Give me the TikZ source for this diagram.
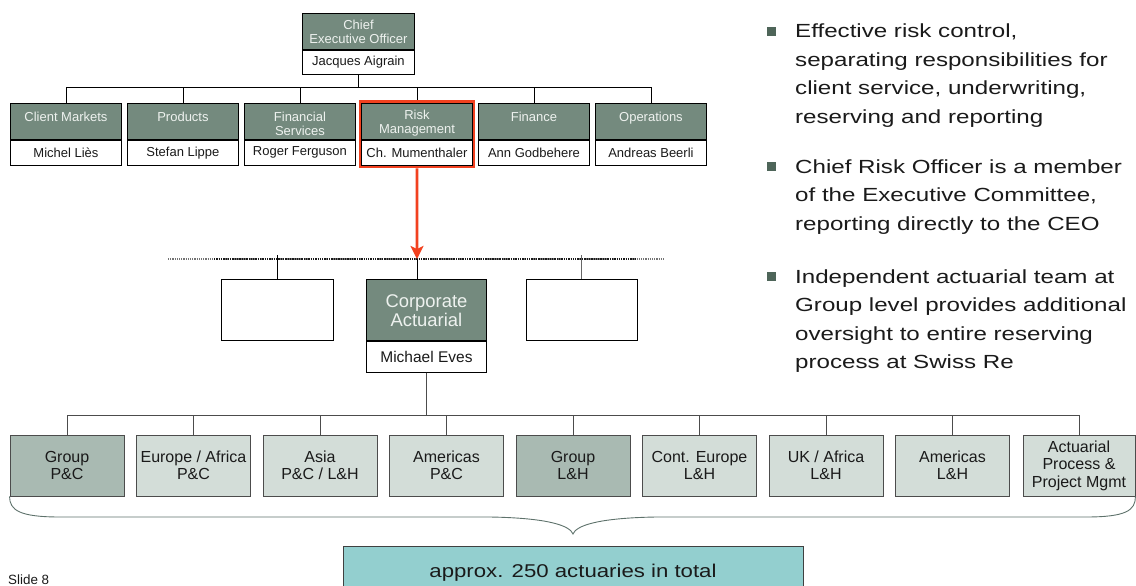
\documentclass[tikz,border=0pt]{standalone}
\usepackage{fontspec}
\setmainfont{Liberation Sans}
\newfontfamily\bulletfont{Liberation Sans}[FakeStretch=1.27]
\newfontfamily\widefont{Liberation Sans}[FakeStretch=1.2]
\usetikzlibrary{arrows.meta,fit,calc}

\definecolor{hdrgreen}{HTML}{748A7E}
\definecolor{hdrtext}{HTML}{EEF2EF}
\definecolor{darkbox}{HTML}{A9BAB2}
\definecolor{lightbox}{HTML}{D3DDD8}
\definecolor{riskred}{HTML}{F2411F}
\definecolor{tealbox}{HTML}{93CFCF}
\definecolor{bracecol}{HTML}{5E726B}
\definecolor{bulletcol}{HTML}{4E6559}
\definecolor{txt}{HTML}{1A1A1A}

\begin{document}
\begin{tikzpicture}[x=1pt,y=-1pt,
  hdr/.style={draw=black, line width=0.9pt, fill=hdrgreen,
    minimum width=111pt, minimum height=36pt, inner sep=0pt,
    anchor=north west},
  htext/.style={text=hdrtext, inner sep=0pt, align=center,
    font=\fontsize{13}{14}\selectfont},
  nm/.style={draw=black, line width=0.9pt, fill=white, text=txt,
    minimum width=111pt, minimum height=25pt, inner sep=0pt,
    anchor=north west, font=\fontsize{13}{14}\selectfont},
  wire/.style={draw=black, line width=0.9pt},
  lowwire/.style={draw=black!70, line width=0.9pt},
  blank/.style={draw=black, line width=0.9pt, fill=white, minimum height=61pt,
    inner sep=0pt, anchor=north west},
  unit/.style={draw=black!70, line width=0.9pt, minimum width=114pt,
    minimum height=61pt, inner sep=0pt, align=center, text=txt,
    font=\fontsize{16}{17.5}\selectfont},
  bsq/.style={fill=bulletcol, minimum size=9pt, inner sep=0pt},
  btxt/.style={anchor=base west, inner sep=0pt, text=txt,
    font=\bulletfont\fontsize{19}{28}\selectfont},
  brace/.style={draw=bracecol, line width=0.9pt}
]
\useasboundingbox (0,0) rectangle (1136,586);
\clip (0,0) rectangle (1136,586);

% ---------- CEO ----------
\node[hdr, minimum width=112pt] (ceoh) at (302,13) {};
\node[htext, yshift=-0.5pt] (ceol) at (ceoh.center) {Chief\\Executive Officer};
\node[nm, minimum width=112pt, minimum height=24pt] (ceon) at (ceoh.south west) {Jacques Aigrain};

% ---------- executive row ----------
\node[hdr] (cmh) at (10,103) {};
\node[nm] (cmn) at (cmh.south west) {Michel Liès};
\node[hdr] (prh) at (127,103) {};
\node[nm] (prn) at (prh.south west) {Stefan Lippe};
\node[hdr] (fsh) at (244,103) {};
\node[nm] (fsn) at (fsh.south west) {Roger Ferguson};
\node[hdr] (rmh) at (361,103) {};
\node[nm] (rmn) at (rmh.south west) {Ch. Mumenthaler};
\node[hdr] (fih) at (478,103) {};
\node[nm] (fin) at (fih.south west) {Ann Godbehere};
\node[hdr] (oph) at (595,103) {};
\node[nm] (opn) at (oph.south west) {Andreas Beerli};

\node[htext, yshift=-2pt] (cml) at (cmh.center) {Client Markets\\\phantom{X}};
\node[htext, yshift=-2pt] (prl) at (prh.center) {Products\\\phantom{X}};
\node[htext, yshift=-2pt] (fsl) at (fsh.center) {Financial\\Services};
\node[htext, yshift=-2pt] (rml) at (rmh.center) {Risk\\Management};
\node[htext, yshift=-2pt] (fil) at (fih.center) {Finance\\\phantom{X}};
\node[htext, yshift=-2pt] (opl) at (oph.center) {Operations\\\phantom{X}};

\foreach \n in {cmh,prh,fsh,rmh,fih,oph}
  \draw[wire] (ceon.south) -- ++(0,13) -| (\n.north);

\node[draw=riskred, line width=2.6pt, fit=(rmh)(rmn), inner sep=1.2pt] (rmbox) {};

% ---------- dotted level ----------
\coordinate (dl) at (168,259);
\coordinate (dr) at (665,259);
\coordinate (dml) at (214,259);
\coordinate (dmr) at (636,259);
\draw[black!55, densely dotted, line width=1.2pt] (dl) -- (dr);
\draw[black!90, densely dotted, line width=1.3pt] (dml) -- (dmr);

\node[blank, minimum width=112pt] (lb) at (221,279) {};
\node[blank, minimum width=111pt] (rb) at (526,279) {};
\node[hdr, minimum width=120pt, minimum height=61pt] (cah) at (366,279) {};
\node[htext, font=\fontsize{18.4}{19.5}\selectfont, yshift=-0.5pt] (cal) at (cah.center) {Corporate\\Actuarial};
\node[nm, minimum width=120pt, minimum height=31pt,
      font=\fontsize{15.5}{17}\selectfont] (can) at (cah.south west) {Michael Eves};

\coordinate (lbt) at (277,255);
\coordinate (rbt) at (581.5,255);
\coordinate (cat) at (417,259);
\draw[wire] (lbt) -- (lbt |- lb.north);
\draw[draw=black!60, line width=0.9pt] (rbt) -- (rbt |- rb.north);
\draw[wire] (cat) -- (cat |- cah.north);

\draw[riskred, line width=2.6pt, -{Stealth[length=13pt, width=13pt, inset=3pt]}]
  (rmbox.south) -- (cat);

% ---------- actuarial units ----------
\node[unit, fill=darkbox]  (u1) at (67,465.5)     {Group\\P\&C};
\node[unit, fill=lightbox] (u2) at (193.5,465.5)  {Europe / Africa\\P\&C};
\node[unit, fill=lightbox] (u3) at (320,465.5)    {Asia\\P\&C / L\&H};
\node[unit, fill=lightbox] (u4) at (446.5,465.5)  {Americas\\P\&C};
\node[unit, fill=darkbox]  (u5) at (573,465.5)    {Group\\L\&H};
\node[unit, fill=lightbox] (u6) at (699.5,465.5)  {Cont. Europe\\L\&H};
\node[unit, fill=lightbox] (u7) at (826,465.5)    {UK / Africa\\L\&H};
\node[unit, fill=lightbox] (u8) at (952.5,465.5)  {Americas\\L\&H};
\node[unit, fill=lightbox, minimum width=112pt] (u9) at (1079,465.5) {Actuarial\\Process \&\\Project Mgmt};

\foreach \n in {u1,u2,u3,u4,u5,u6,u7,u8,u9}
  \draw[lowwire] (can.south) -- ++(0,43) -| (\n.north);

% ---------- brace ----------
\draw[brace] (u1.south west) .. controls +(0,14) and +(-40,0) .. (60,517)
  -- (490,517) .. controls +(60,1) and +(-3,-8) .. (573,534)
  .. controls +(3,-8) and +(-60,1) .. (656,517)
  -- (1086,517) .. controls +(40,0) and +(0,14) .. (u9.south east);

% ---------- total box ----------
\node[draw=black!75, line width=0.9pt, fill=tealbox, minimum width=460pt,
      minimum height=60pt, inner sep=0pt, anchor=north] (tot) at (573,546) {};
\node[anchor=base, inner sep=0pt, text=txt,
      font=\widefont\fontsize{18.5}{20}\selectfont] (tott) at (573,577)
      {approx. 250 actuaries in total};

% ---------- slide number ----------
\node[anchor=base west, inner sep=0pt, text=txt, font=\fontsize{13.4}{15}\selectfont]
  (slide) at (8,584) {Slide 8};

% ---------- bullets ----------
\node[bsq] (bq1) at (771.5,31.5) {};
\node[btxt] (t11) at (795,38) {Effective risk control,};
\node[btxt] (t12) at (795,66.3) {separating responsibilities for};
\node[btxt] (t13) at (795,94.6) {client service, underwriting,};
\node[btxt] (t14) at (795,123) {reserving and reporting};

\node[bsq] (bq2) at (771.5,166.5) {};
\node[btxt] (t21) at (795,173) {Chief Risk Officer is a member};
\node[btxt] (t22) at (795,201.5) {of the Executive Committee,};
\node[btxt] (t23) at (795,230) {reporting directly to the CEO};

\node[bsq] (bq3) at (771.5,276.5) {};
\node[btxt] (t31) at (795,283) {Independent actuarial team at};
\node[btxt] (t32) at (795,311.5) {Group level provides additional};
\node[btxt] (t33) at (795,340) {oversight to entire reserving};
\node[btxt] (t34) at (795,368.5) {process at Swiss Re};
\end{tikzpicture}
\end{document}
